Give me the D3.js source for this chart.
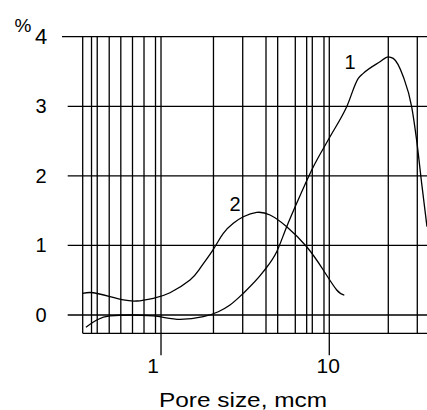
<!DOCTYPE html>
<html>
<head>
<meta charset="utf-8">
<script src="https://cdn.jsdelivr.net/npm/d3@7"></script>
<style>
  html, body { margin: 0; padding: 0; background: #fff; }
  svg { display: block; }
  text { font-family: "Liberation Sans", Arial, sans-serif; fill: #000; }
</style>
</head>
<body>
<svg id="chart" width="427" height="410"></svg>
<script>
// --- Data (pore size in mcm, share in %) ---
const curve1Size = [0.358, 0.415, 0.498, 0.654, 0.90, 1.297, 1.784, 2.19, 2.57, 3.083, 4.054, 4.87, 5.584, 6.40, 8.04, 10.1, 12.69, 14.87, 15.92, 20.01, 22.42, 23.99, 27.53, 30.88, 33.04, 35.4, 38.06];
const curve1Pct  = [-0.177, -0.072, -0.014, 0.0, -0.014, -0.062, -0.024, 0.047, 0.144, 0.312, 0.622, 0.909, 1.269, 1.605, 2.131, 2.562, 2.993, 3.401, 3.473, 3.639, 3.711, 3.688, 3.424, 2.993, 2.514, 1.892, 1.269];

const curve2Size = [0.3425, 0.396, 0.498, 0.597, 0.717, 0.90, 1.131, 1.487, 1.705, 2.046, 2.345, 2.689, 3.083, 3.704, 4.443, 5.584, 7.34, 9.21, 11.07, 12.28];
const curve2Pct  = [0.312, 0.320, 0.263, 0.216, 0.201, 0.240, 0.320, 0.503, 0.670, 0.944, 1.174, 1.318, 1.412, 1.475, 1.437, 1.269, 0.981, 0.647, 0.359, 0.287];

// vertical grid lines of the original (hand-ruled, not a regular log grid)
const gridSizes = [0.3425, 0.3864, 0.4178, 0.4923, 0.577, 0.677, 0.7925, 0.9275, 1, 2.05, 3.059, 4.207, 4.935, 6.281, 7.339, 7.925, 9.301, 10, 22.42, 33.34];
const xTicks = [1, 10];
const yTicks = [0, 1, 2, 3, 4];
const curveLabels = [{ name: "1", size: 13.27, pct: 3.64 }, { name: "2", size: 2.753, pct: 1.595 }];

// --- Scales ---
const x = d3.scaleLog().domain([0.3425, 40]).range([82.7, 430.6]);
const y = d3.scaleLinear().domain([-0.263, 4]).range([333.3, 36.7]);

const svg = d3.select("#chart");
const g = svg.append("g");
const STROKE = 1.3;

// vertical grid
g.selectAll("line.vgrid").data(gridSizes).join("line")
  .attr("x1", d => x(d)).attr("x2", d => x(d))
  .attr("y1", y(4)).attr("y2", d => xTicks.includes(d) ? y(-0.263) + 22 : y(-0.263))
  .attr("stroke", "#000").attr("stroke-width", STROKE);

// horizontal grid
g.selectAll("line.hgrid").data(yTicks).join("line")
  .attr("x1", d => d === 4 ? 62 : 67.7).attr("x2", 427)
  .attr("y1", d => y(d)).attr("y2", d => y(d))
  .attr("stroke", "#000").attr("stroke-width", STROKE);

// bottom frame
g.append("line")
  .attr("x1", x(0.3425)).attr("x2", 427)
  .attr("y1", y(-0.263)).attr("y2", y(-0.263))
  .attr("stroke", "#000").attr("stroke-width", STROKE);

// y tick labels
g.selectAll("text.ytick").data(yTicks).join("text")
  .attr("x", 41).attr("y", d => y(d))
  .attr("text-anchor", "middle").attr("dominant-baseline", "central")
  .attr("font-size", d => d === 4 ? 22 : 20)
  .text(d => d);

g.append("text").attr("x", 23).attr("y", 32)
  .attr("text-anchor", "middle").attr("font-size", 19).text("%");

// x tick labels
g.selectAll("text.xtick").data(xTicks).join("text")
  .attr("x", d => x(d) - (d === 1 ? 8 : 1)).attr("y", 373)
  .attr("text-anchor", "middle").attr("font-size", 21)
  .text(d => d);

g.append("text").attr("x", 243).attr("y", 407)
  .attr("text-anchor", "middle").attr("font-size", 21)
  .attr("textLength", 168).attr("lengthAdjust", "spacingAndGlyphs")
  .text("Pore size, mcm");

// curves (curve 1 has a sharp bend near 15 mcm, curve 2 is smooth)
const series = [
  { size: curve1Size, pct: curve1Pct, curve: d3.curveMonotoneX },
  { size: curve2Size, pct: curve2Pct, curve: d3.curveNatural }
];
series.forEach(s => {
  const line = d3.line().x(d => x(d[0])).y(d => y(d[1])).curve(s.curve);
  g.append("path")
    .datum(s.size.map((v, i) => [v, s.pct[i]]))
    .attr("d", line)
    .attr("fill", "none").attr("stroke", "#000").attr("stroke-width", STROKE);
});

g.selectAll("text.clabel").data(curveLabels).join("text")
  .attr("x", d => x(d.size)).attr("y", d => y(d.pct))
  .attr("text-anchor", "middle").attr("dominant-baseline", "central")
  .attr("font-size", 20).text(d => d.name);
</script>
</body>
</html>
